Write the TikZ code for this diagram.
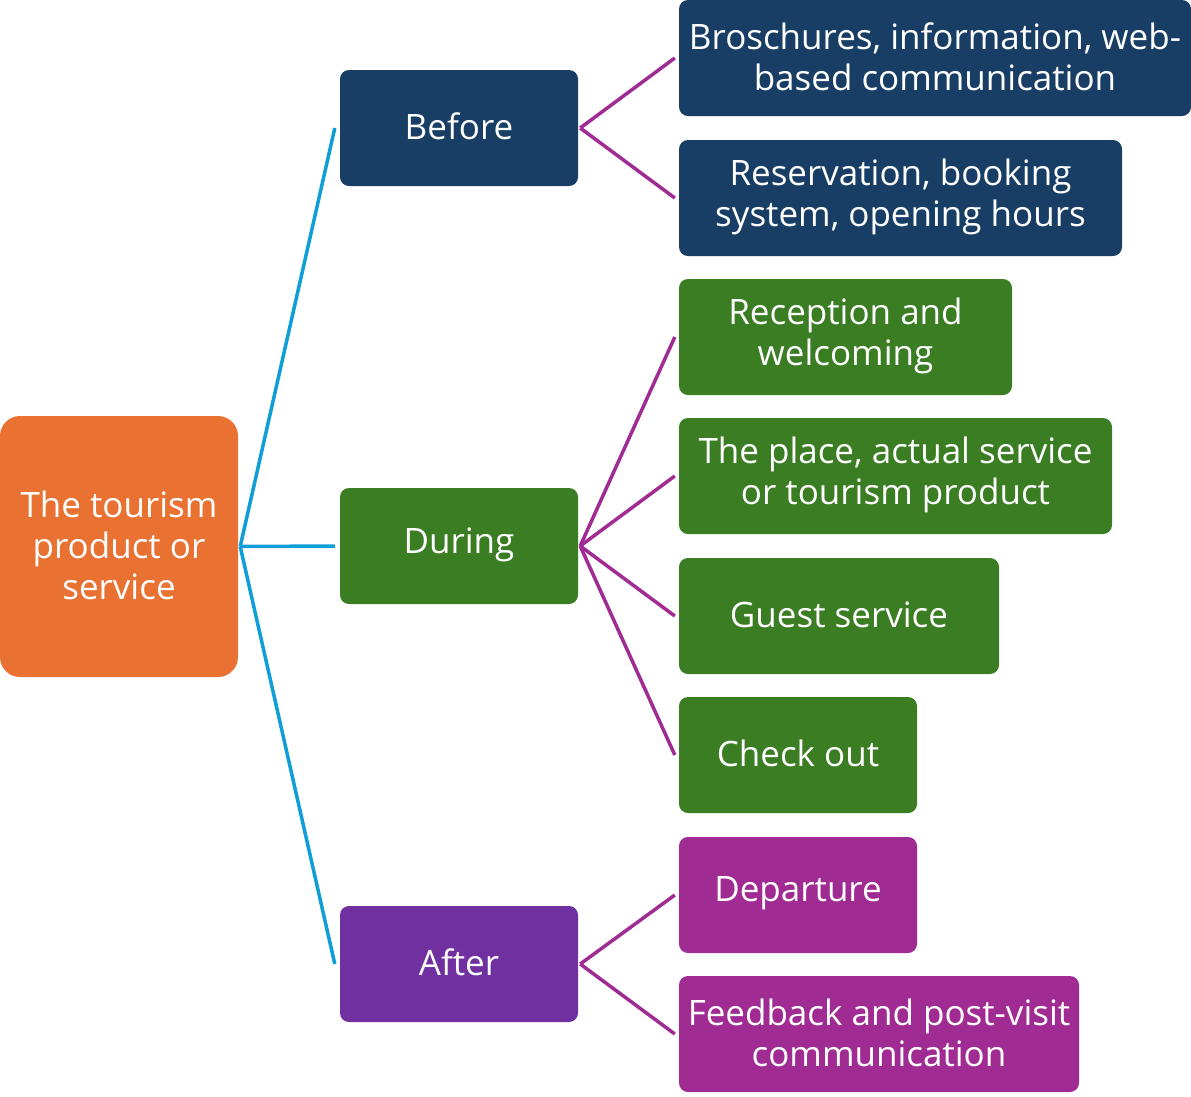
\documentclass[tikz,border=0pt]{standalone}
\usepackage{fontspec}
\setmainfont{Open Sans}
\definecolor{corange}{HTML}{E97132}
\definecolor{cblue}{HTML}{183E65}
\definecolor{cgreen}{HTML}{3A7D22}
\definecolor{cpurple}{HTML}{7030A0}
\definecolor{cmagenta}{HTML}{A02B93}
\definecolor{ccyan}{HTML}{0F9ED5}
\begin{document}
\begin{tikzpicture}[x=1pt,y=-1pt,
  box/.style={rectangle, rounded corners=9pt, inner sep=0pt},
  txt/.style={text=white, align=center, inner sep=0pt, yshift=1.5pt,
    font=\fontsize{35}{41}\selectfont},
  lvl1/.style={ccyan, line width=3.5pt},
  lvl2/.style={cmagenta, line width=3.5pt}]
\useasboundingbox (0,0) rectangle (1191,1096);
\newcommand\mybox[7]{\node[box, fill=#6, minimum width={#4-#2}, minimum height={#5-#3},
  label={[txt]center:{#7}}] (#1) at ({(#2+#4)/2},{(#3+#5)/2}) {};}
\node[box, fill=corange, rounded corners=20pt, minimum width=238, minimum height=261,
  label={[txt]center:{The tourism\\product or\\service}}] (root) at (119,546.5) {};
\mybox{before}{340}{70}{578}{186}{cblue}{Before}
\mybox{during}{340}{488}{578}{604}{cgreen}{During}
\mybox{after}{340}{906}{578}{1022}{cpurple}{After}
\mybox{b1}{679}{0}{1191}{116}{cblue}{Broschures, information, web-\\based communication}
\mybox{b2}{679}{140}{1122}{256}{cblue}{Reservation, booking\\system, opening hours}
\mybox{d1}{679}{279}{1012}{395}{cgreen}{Reception and\\welcoming}
\mybox{d2}{679}{418}{1112}{534}{cgreen}{The place, actual service\\or tourism product}
\mybox{d3}{679}{558}{999}{674}{cgreen}{Guest service}
\mybox{d4}{679}{697}{917}{813}{cgreen}{Check out}
\mybox{a1}{679}{837}{917}{953}{cmagenta}{Departure}
\mybox{a2}{679}{976}{1079}{1092}{cmagenta}{Feedback and post-visit\\communication}
\foreach \n in {before,during,after}
  \draw[lvl1] ([xshift=2pt]root.east) -- ([xshift=-5pt]\n.west);
\foreach \p/\c in {before/b1,before/b2,during/d1,during/d2,during/d3,during/d4,after/a1,after/a2}
  \draw[lvl2] ([xshift=2pt]\p.east) -- ([xshift=-4pt]\c.west);
\end{tikzpicture}
\end{document}
